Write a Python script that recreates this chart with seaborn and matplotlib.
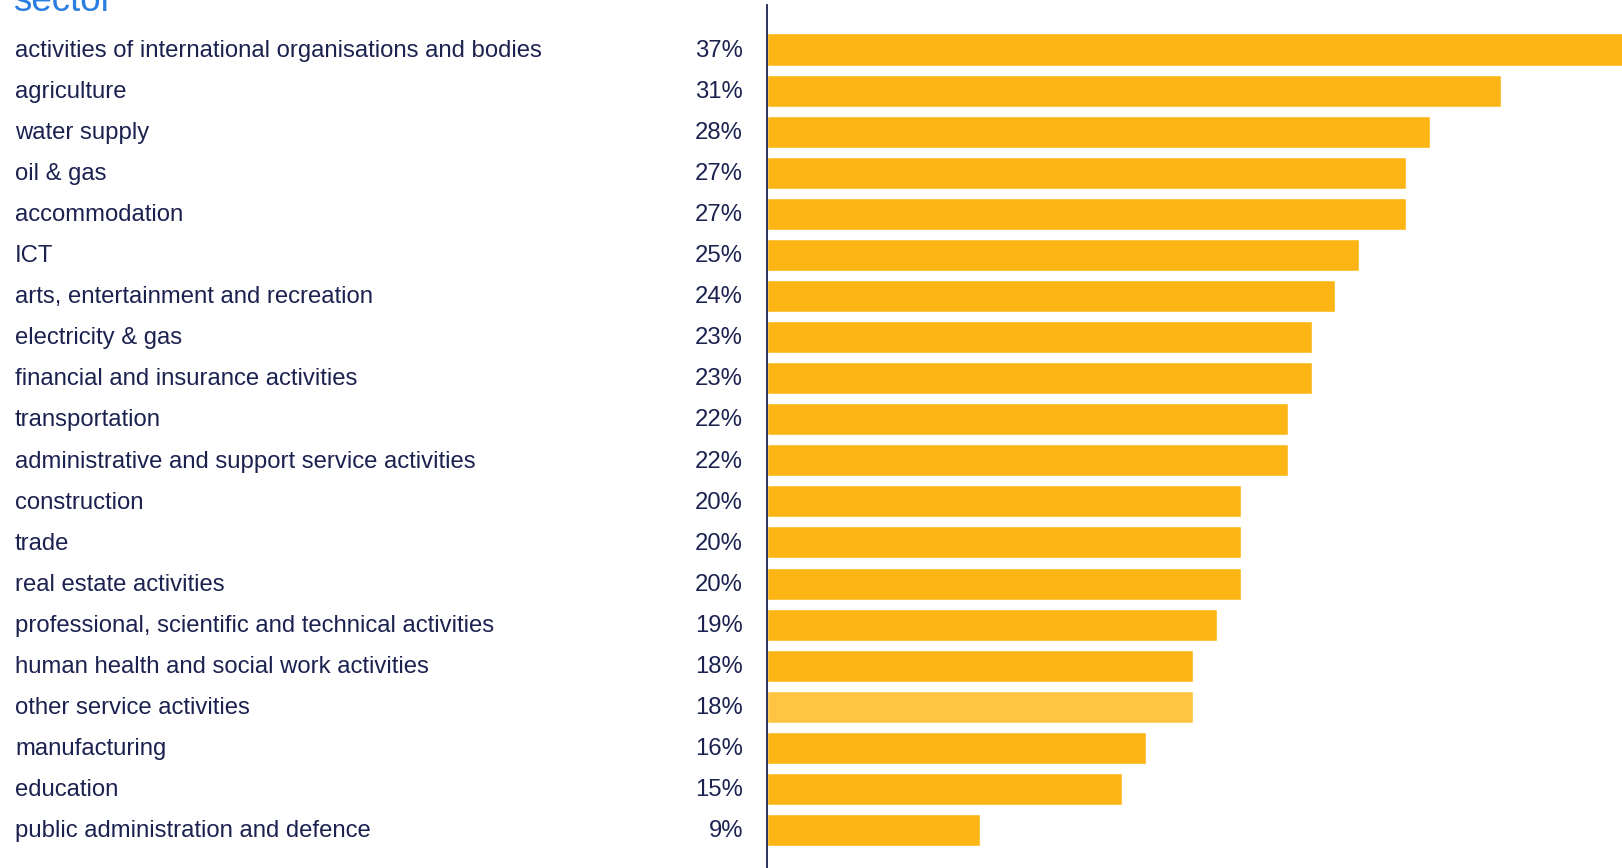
import matplotlib
matplotlib.use("Agg")
import matplotlib.pyplot as plt
import matplotlib.transforms as mtransforms
import seaborn as sns
import pandas as pd

categories = [
    "activities of international organisations and bodies",
    "agriculture",
    "water supply",
    "oil & gas",
    "accommodation",
    "ICT",
    "arts, entertainment and recreation",
    "electricity & gas",
    "financial and insurance activities",
    "transportation",
    "administrative and support service activities",
    "construction",
    "trade",
    "real estate activities",
    "professional, scientific and technical activities",
    "human health and social work activities",
    "other service activities",
    "manufacturing",
    "education",
    "public administration and defence",
]
values = [37, 31, 28, 27, 27, 25, 24, 23, 23, 22, 22, 20, 20, 20, 19, 18, 18, 16, 15, 9]
highlight = "other service activities"

BAR = "#FDB515"
BAR_LIGHT = "#FEC442"
TEXT = "#1B2250"
TITLE = "#2A7DE1"
FONT = "Liberation Sans"
FS = 17.2

W, H = 1622, 868
fig = plt.figure(figsize=(W / 100, H / 100), dpi=100)
sns.set_style("white")
plt.rcParams["font.family"] = [FONT, "DejaVu Sans"]

ax_left = 767 / W
ax_top = (H - 5) / H
ax = fig.add_axes([ax_left, 0, 1 - ax_left, ax_top])

df = pd.DataFrame({"sector": categories, "value": values})
palette = {c: (BAR_LIGHT if c == highlight else BAR) for c in categories}
sns.barplot(data=df, x="value", y="sector", hue="sector", palette=palette,
            legend=False, width=0.78, ax=ax, saturation=1, orient="h")

px_per_unit = 23.68
ax.set_xlim(0, (W - 767) / px_per_unit)
pitch = 41.08
ax.set_ylim((H - 49.5) / pitch, -(49.5 - 5) / pitch)

for s in ["top", "right", "bottom"]:
    ax.spines[s].set_visible(False)
ax.spines["left"].set_color(TEXT)
ax.spines["left"].set_linewidth(1.3)
ax.set_xticks([])
ax.set_yticks([])
ax.set_xlabel("")
ax.set_ylabel("")

trans_lab = mtransforms.blended_transform_factory(fig.transFigure, ax.transData)
dy = 0.03
for i, (c, v) in enumerate(zip(categories, values)):
    ax.text(15 / W, i + dy, c, transform=trans_lab, fontsize=FS, color=TEXT,
            ha="left", va="center", clip_on=False)
    ax.text(743 / W, i + dy, f"{v}%", transform=trans_lab, fontsize=FS, color=TEXT,
            ha="right", va="center", clip_on=False)

fig.text(13 / W, 1 - 11 / H, "sector", fontsize=26.5, color=TITLE,
         ha="left", va="baseline")

fig.savefig("out.png", dpi=100)
